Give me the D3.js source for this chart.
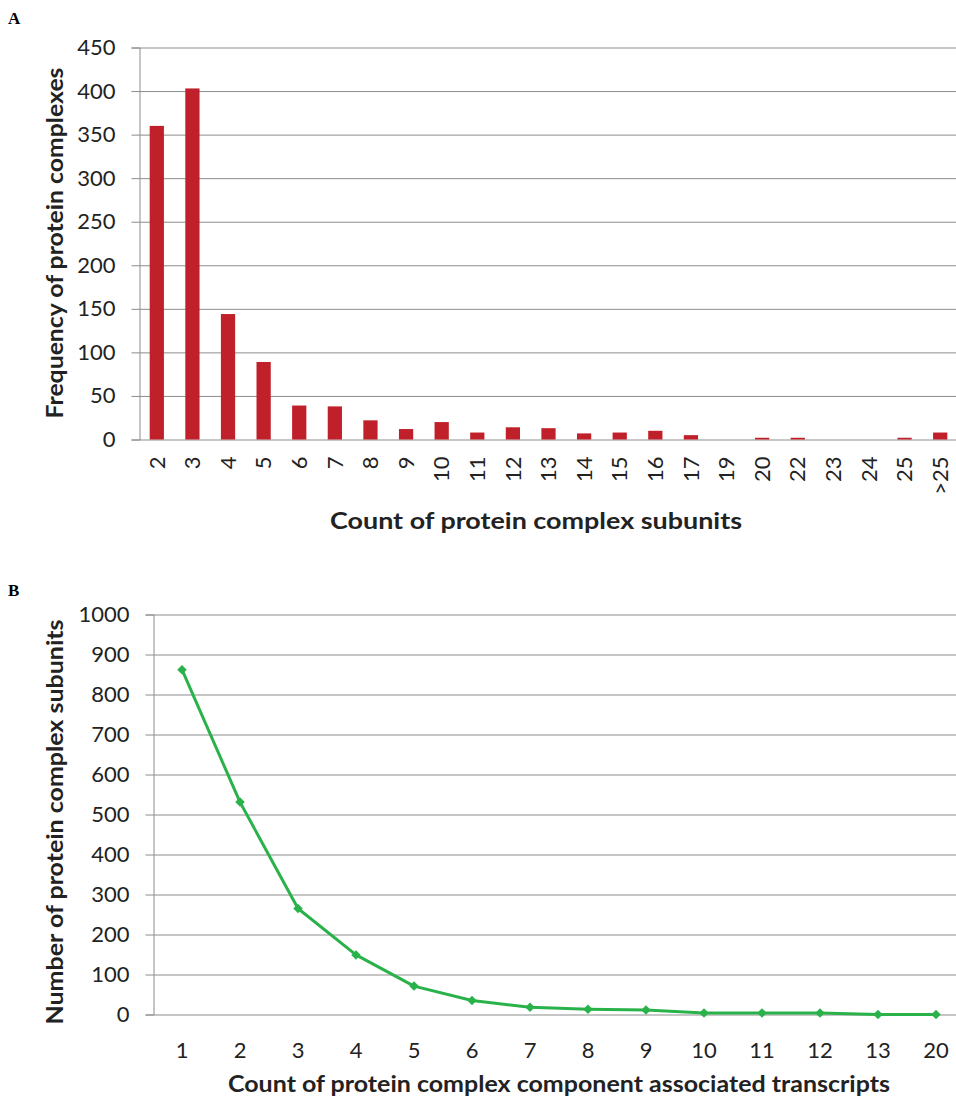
<!DOCTYPE html>
<html lang="en">
<head>
<meta charset="UTF-8">
<title>protein complexes</title>
<script src="https://cdn.jsdelivr.net/npm/d3@7/dist/d3.min.js"></script>
<style>
    body { margin: 0; background: #fff; }
    .tick text { font-family: Lato, "Open Sans", sans-serif; font-size: 22px; fill: #222; }
    .title { font-family: Lato, "Open Sans", sans-serif; font-weight: bold; font-size: 22px; fill: #222; }
    .panel { font-family: "Liberation Serif", serif; font-weight: bold; font-size: 17px; }
</style>
</head>
<body>
<svg width="956" height="1098" id="mainsvg"></svg>
<script>
    // panel A data
    const subunitCats = ["2", "3", "4", "5", "6", "7", "8", "9", "10", "11", "12", "13", "14", "15", "16", "17", "19", "20", "22", "23", "24", "25", ">25"];
    const complexFreq = [360, 403, 144, 89, 39, 38, 22, 12, 20, 8, 14, 13, 7, 8, 10, 5, 0, 2, 2, 0, 0, 2, 8];
    const yTicksA = [0, 50, 100, 150, 200, 250, 300, 350, 400, 450];

    // panel B data
    const transcriptCats = ["1", "2", "3", "4", "5", "6", "7", "8", "9", "10", "11", "12", "13", "20"];
    const subunitCounts = [862, 531, 265, 149, 71, 35, 18, 13, 11, 4, 4, 4, 0, 0];
    const yTicksB = [0, 100, 200, 300, 400, 500, 600, 700, 800, 900, 1000];

    const svg = d3.select('#mainsvg');
    const gridColor = '#8c8c8c';

    function yAxisGrid(g, yScale, ticks, x0, x1) {
        g.append('g').attr('transform', `translate(${x0},0)`)
            .call(d3.axisLeft(yScale).tickValues(ticks).tickFormat(d3.format('d')).tickSize(8).tickPadding(16))
            .call(g => g.select('.domain').attr('stroke', gridColor))
            .call(g => g.selectAll('.tick line').attr('stroke', gridColor).clone()
                .attr('x1', 0).attr('x2', x1 - x0));
    }

    // ---------- A ----------
    const xA = d3.scaleBand().domain(subunitCats).range([139, 958]).paddingInner(0.6).paddingOuter(0.3);
    const yA = d3.scaleLinear().domain([0, 450]).range([439.5, 47.5]);
    const gA = svg.append('g');

    gA.append('text').attr('class', 'panel').attr('x', 8).attr('y', 24).text('A');
    yAxisGrid(gA, yA, yTicksA, 139.5, 965);

    gA.selectAll('.bar').data(complexFreq).join('rect')
        .attr('class', 'bar')
        .attr('x', (d, i) => xA(subunitCats[i]))
        .attr('width', xA.bandwidth())
        .attr('y', d => yA(d))
        .attr('height', d => yA(0) - yA(d))
        .attr('fill', '#c0202a');

    gA.append('g').attr('transform', `translate(0,${yA(0)})`)
        .call(d3.axisBottom(xA).tickSize(0).tickPadding(0))
        .call(g => g.select('.domain').remove())
        .selectAll('text')
        .attr('transform', 'rotate(-90)')
        .attr('text-anchor', 'end')
        .attr('x', -17).attr('y', 0).attr('dy', '0.35em');

    gA.append('text').attr('class', 'title').attr('x', 536).attr('y', 529)
        .attr('text-anchor', 'middle').attr('textLength', 412).attr('lengthAdjust', 'spacingAndGlyphs')
        .text('Count of protein complex subunits');
    gA.append('text').attr('class', 'title')
        .attr('transform', 'translate(63,243) rotate(-90)')
        .attr('text-anchor', 'middle').attr('textLength', 351).attr('lengthAdjust', 'spacingAndGlyphs')
        .text('Frequency of protein complexes');

    // ---------- B ----------
    const xB = d3.scaleBand().domain(transcriptCats).range([153, 965]);
    const yB = d3.scaleLinear().domain([0, 1000]).range([1014.5, 614.5]);
    const gB = svg.append('g');

    gB.append('text').attr('class', 'panel').attr('x', 8).attr('y', 596).text('B');
    yAxisGrid(gB, yB, yTicksB, 153.5, 965);

    gB.append('g').attr('transform', `translate(0,${yB(0)})`)
        .call(d3.axisBottom(xB).tickSize(0))
        .call(g => g.select('.domain').remove())
        .selectAll('text').attr('y', 28);

    const cx = (d, i) => xB(transcriptCats[i]) + xB.bandwidth() / 2;
    const line = d3.line().x(cx).y(d => yB(d));
    gB.append('path').datum(subunitCounts)
        .attr('d', line).attr('fill', 'none')
        .attr('stroke', '#2ab24a').attr('stroke-width', 3).attr('stroke-linejoin', 'round');

    // square markers turned 45deg, like the excel diamonds
    gB.selectAll('.pt').data(subunitCounts).join('path')
        .attr('class', 'pt')
        .attr('d', d3.symbol(d3.symbolSquare, 45))
        .attr('transform', (d, i) => `translate(${cx(d, i)},${yB(d)}) rotate(45)`)
        .attr('fill', '#2ab24a');

    gB.append('text').attr('class', 'title').attr('x', 559).attr('y', 1092)
        .attr('text-anchor', 'middle').attr('textLength', 662).attr('lengthAdjust', 'spacingAndGlyphs')
        .text('Count of protein complex component associated transcripts');
    gB.append('text').attr('class', 'title')
        .attr('transform', 'translate(63,822) rotate(-90)')
        .attr('text-anchor', 'middle').attr('textLength', 405).attr('lengthAdjust', 'spacingAndGlyphs')
        .text('Number of protein complex subunits');
</script>
</body>
</html>
